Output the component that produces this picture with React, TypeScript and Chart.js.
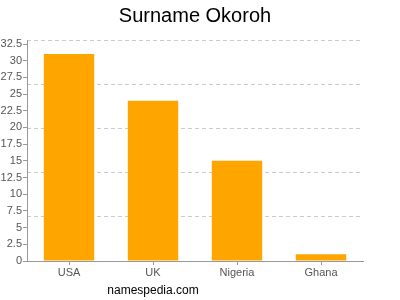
import React, { useEffect, useRef } from "react";
import { Chart, registerables } from "chart.js";

Chart.register(...registerables);

const categories = ["USA", "UK", "Nigeria", "Ghana"];
const counts = [31, 24, 15, 1];
const yMax = 33.1;
const yTicks = [0, 2.5, 5, 7.5, 10, 12.5, 15, 17.5, 20, 22.5, 25, 27.5, 30, 32.5];
const gridStep = 6.62;
const titleText = "Surname Okoroh";
const footerText = "namespedia.com";

const FONT = "'Liberation Sans', Arial, Helvetica, sans-serif";

export default function App() {
  const ref = useRef<HTMLCanvasElement | null>(null);

  useEffect(() => {
    if (!ref.current) return;
    const textPlugin = {
      id: "texts",
      afterDraw(chart: any) {
        const ctx = chart.ctx;
        ctx.save();
        ctx.fillStyle = "#000";
        ctx.textBaseline = "middle";
        ctx.textAlign = "center";
        ctx.font = `20px ${FONT}`;
        ctx.fillText(titleText, 195, 16);
        ctx.font = `12px ${FONT}`;
        ctx.fillText(footerText, 153, 291);
        ctx.restore();
      },
    };
    const chart = new Chart(ref.current, {
      type: "bar",
      data: {
        labels: categories,
        datasets: [
          {
            data: counts,
            backgroundColor: "#FFA500",
            barPercentage: 0.6,
            categoryPercentage: 1,
          },
        ],
      },
      options: {
        animation: false,
        responsive: false,
        maintainAspectRatio: false,
        layout: { padding: { left: 0, right: 37, top: 40, bottom: 0 } },
        plugins: {
          legend: { display: false },
          title: { display: false },
          tooltip: { enabled: false },
        },
        scales: {
          x: {
            grid: {
              offset: false,
              drawOnChartArea: false,
              drawTicks: true,
              tickLength: 4,
              color: "#999",
            },
            border: { color: "#999" },
            ticks: {
              color: "#555",
              font: { family: FONT, size: 11 },
              padding: 1,
            },
            afterFit: (s: any) => {
              s.height = 39;
            },
          },
          y: {
            min: 0,
            max: yMax,
            bounds: "data",
            grid: {
              drawOnChartArea: false,
              drawTicks: true,
              tickLength: 4,
              color: "#999",
            },
            border: { color: "#999" },
            ticks: {
              autoSkip: false,
              color: "#555",
              font: { family: FONT, size: 11 },
              padding: 1,
            },
            afterBuildTicks: (s: any) => {
              s.ticks = yTicks.map((v) => ({ value: v }));
            },
            afterFit: (s: any) => {
              s.width = 27;
            },
          },
          y2: {
            position: "right",
            min: 0,
            max: yMax,
            bounds: "data",
            grid: {
              drawOnChartArea: true,
              drawTicks: false,
              color: "#ccc",
              lineWidth: 1,
            },
            border: { display: false, dash: [4, 3] },
            ticks: { display: false, stepSize: gridStep },
            afterFit: (s: any) => {
              s.width = 0;
            },
          },
        } as any,
      },
      plugins: [textPlugin],
    });
    return () => chart.destroy();
  }, []);

  return (
    <div style={{ position: "absolute", left: 0, top: 0, width: 400, height: 300 }}>
      <canvas ref={ref} width={400} height={300} style={{ width: 400, height: 300 }} />
    </div>
  );
}
